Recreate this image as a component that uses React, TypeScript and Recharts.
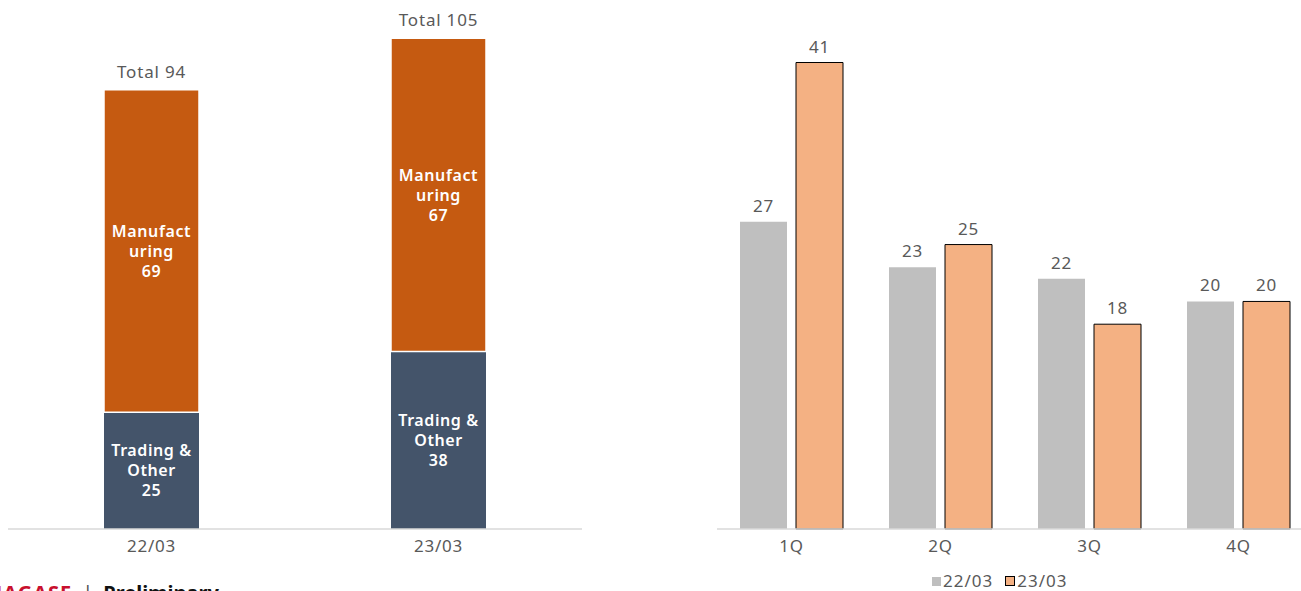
import { BarChart, Bar, XAxis, YAxis, LabelList } from 'recharts'

// left: sales breakdown by segment
const years = ['22/03', '23/03']
const trading = [25, 38]
const manufacturing = [69, 67]
const totals = [94, 105]

// right: quarterly
const quarters = ['1Q', '2Q', '3Q', '4Q']
const fy22 = [27, 23, 22, 20]
const fy23 = [41, 25, 18, 20]

const FONT = '"Noto Sans", "Noto Sans CJK JP", sans-serif'
const GREY_TXT = '#595959'

const leftData = years.map((y, i) => ({ year: y, trading: trading[i], manufacturing: manufacturing[i], total: totals[i] }))
const rightData = quarters.map((q, i) => ({ q, a: fy22[i], b: fy23[i] }))

function segLabel(lines: (v: any) => string[]) {
  return (p: any) => {
    const { x, y, width, height, value } = p
    const ls = lines(value)
    const cx = x + width / 2
    const cy = y + height / 2
    const lh = 20
    const start = cy - ((ls.length - 1) * lh) / 2
    return (
      <text textAnchor="middle" fill="#fff" fontSize={16} fontWeight={600} fontFamily={FONT} style={{ letterSpacing: 0.6 }}>
        {ls.map((l, i) => (
          <tspan key={i} x={cx} y={start + i * lh} dy="0.35em">{l}</tspan>
        ))}
      </text>
    )
  }
}

function totalLabel(p: any) {
  const { x, y, width, index } = p
  return (
    <text x={x + width / 2} y={y - 18} textAnchor="middle" dy="0.35em" fill={GREY_TXT} fontSize={17} fontFamily={FONT} style={{ letterSpacing: 0.8 }}>
      {'Total ' + totals[index]}
    </text>
  )
}

export default function App() {
  const tick = { fill: GREY_TXT, fontSize: 17, fontFamily: FONT, style: { letterSpacing: 0.8 } }
  const lbl = { fill: GREY_TXT, fontSize: 17, fontFamily: FONT, style: { letterSpacing: 0.8 } }
  return (
    <div style={{ position: 'absolute', left: 0, top: 0, width: 1301, height: 591, overflow: 'hidden', background: '#fff', fontFamily: FONT }}>
      <div style={{ position: 'absolute', left: 8, top: 0 }}>
        <BarChart width={574} height={591} data={leftData} margin={{ top: 15, right: 0, left: 0, bottom: 32 }} barSize={95}>
          <XAxis dataKey="year" height={30} tickLine={false} tickMargin={5} axisLine={{ stroke: '#d9d9d9', strokeWidth: 1.5 }} tick={tick} />
          <YAxis hide domain={[0, 110]} />
          <Bar dataKey="trading" stackId="s" fill="#44546a" isAnimationActive={false}>
            <LabelList dataKey="trading" content={segLabel((v) => ['Trading &', 'Other', String(v)])} />
          </Bar>
          <Bar dataKey="manufacturing" stackId="s" fill="#c55a11" stroke="#fff" strokeWidth={1.5} isAnimationActive={false}>
            <LabelList dataKey="manufacturing" content={segLabel((v) => ['Manufact', 'uring', String(v)])} />
            <LabelList dataKey="total" content={totalLabel} />
          </Bar>
        </BarChart>
      </div>

      <div style={{ position: 'absolute', left: 717, top: 0 }}>
        <BarChart width={596} height={591} data={rightData} margin={{ top: 17, right: 0, left: 0, bottom: 32 }} barSize={47} barGap={9}>
          <XAxis dataKey="q" height={30} tickLine={false} tickMargin={5} axisLine={{ stroke: '#d9d9d9', strokeWidth: 1.5 }} tick={tick} />
          <YAxis hide domain={[0, 45]} />
          <Bar dataKey="a" fill="#bfbfbf" isAnimationActive={false}>
            <LabelList dataKey="a" position="top" offset={10} {...lbl} />
          </Bar>
          <Bar dataKey="b" fill="#f4b183" stroke="#000" strokeWidth={1} isAnimationActive={false}>
            <LabelList dataKey="b" position="top" offset={10} {...lbl} />
          </Bar>
        </BarChart>
      </div>

      <div style={{ position: 'absolute', left: 932, top: 571, display: 'flex', alignItems: 'center', gap: 12, fontSize: 17, color: GREY_TXT, letterSpacing: 1, lineHeight: '20px' }}>
        <span style={{ display: 'flex', alignItems: 'center' }}>
          <span style={{ width: 9, height: 9, background: '#bfbfbf', marginRight: 2 }} />22/03
        </span>
        <span style={{ display: 'flex', alignItems: 'center' }}>
          <span style={{ width: 8, height: 8, background: '#f4b183', border: '1px solid #000', marginRight: 2 }} />23/03
        </span>
      </div>

      <div style={{ position: 'absolute', left: -14, top: 579, fontSize: 20, fontWeight: 700, whiteSpace: 'nowrap', display: 'flex', alignItems: 'center' }}>
        <span style={{ color: '#c8102e', letterSpacing: 1 }}>NAGASE</span>
        <span style={{ color: '#555', fontWeight: 400, margin: '0 10px' }}>|</span>
        <span style={{ color: '#111' }}>Preliminary</span>
      </div>
    </div>
  )
}
